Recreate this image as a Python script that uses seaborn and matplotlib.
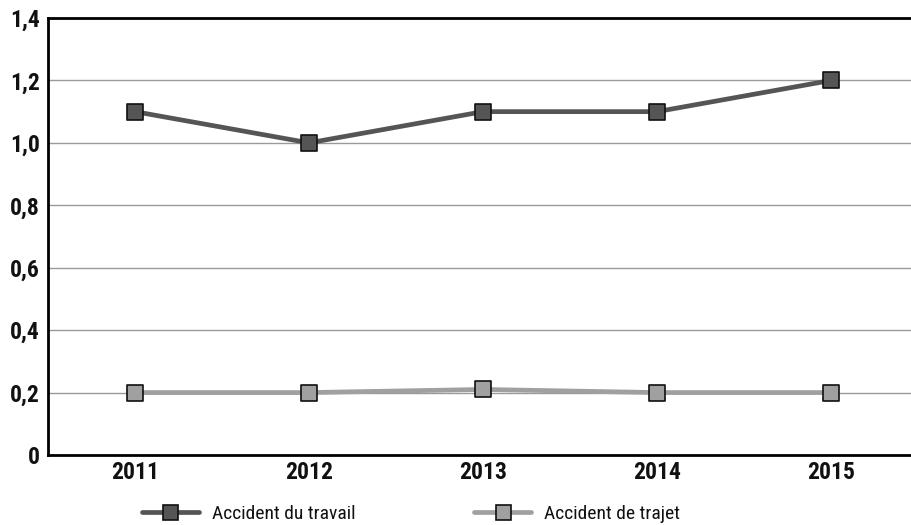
import matplotlib
matplotlib.use("Agg")
import matplotlib.pyplot as plt
import seaborn as sns
import pandas as pd
from matplotlib.ticker import FuncFormatter
from matplotlib.lines import Line2D

years = ["2011", "2012", "2013", "2014", "2015"]
travail = [1.1, 1.0, 1.1, 1.1, 1.2]
trajet = [0.2, 0.2, 0.21, 0.2, 0.2]
series_names = ["Accident du travail", "Accident de trajet"]
y_ticks = [0, 0.2, 0.4, 0.6, 0.8, 1.0, 1.2, 1.4]

df = pd.DataFrame({
    "x": list(range(len(years))) * 2,
    "value": travail + trajet,
    "series": [series_names[0]] * len(years) + [series_names[1]] * len(years),
})

sns.set_theme(style="white")
plt.rcParams["font.family"] = ["Roboto Condensed", "DejaVu Sans"]
plt.rcParams["font.stretch"] = "condensed"

fig = plt.figure(figsize=(9.11, 5.25), dpi=100)
ax = fig.add_axes([48 / 911, 1 - 455 / 525, 870 / 911, 437 / 525])

line_colors = {series_names[0]: "#555555", series_names[1]: "#a0a0a0"}

# horizontal reference lines
for tick in y_ticks[1:-1]:
    ax.axhline(tick, color="#9a9a9a", lw=1.0, zorder=0)

sns.lineplot(data=df, x="x", y="value", hue="series", palette=line_colors,
             linewidth=3.4, ax=ax, legend=False, zorder=2)
for name in series_names:
    sub = df[df["series"] == name]
    ax.scatter(sub["x"], sub["value"], marker="s", s=118,
               color=line_colors[name], edgecolor="#111111", linewidth=1.2, zorder=3)

ax.set_xlim(-0.5, len(years) - 0.5)
ax.set_ylim(0, 1.4)
ax.set_xticks(range(len(years)))
ax.set_xticklabels(years)
ax.set_yticks(y_ticks)
ax.yaxis.set_major_formatter(FuncFormatter(lambda v, p: "0" if v == 0 else f"{v:.1f}".replace(".", ",")))
ax.set_xlabel("")
ax.set_ylabel("")
ax.grid(False)

for lab in ax.get_xticklabels() + ax.get_yticklabels():
    lab.set_fontweight("bold")
    lab.set_fontsize(17)
    lab.set_color("#111111")
ax.tick_params(axis="both", length=0)
ax.tick_params(axis="x", pad=4)
ax.tick_params(axis="y", pad=6)

for side in ["left", "bottom", "top"]:
    ax.spines[side].set_visible(True)
    ax.spines[side].set_color("#000000")
    ax.spines[side].set_linewidth(2.0)
ax.spines["right"].set_visible(False)

handles = [Line2D([0], [0], color=line_colors[n], lw=3.4, marker="s", markersize=10.8,
                  markerfacecolor=line_colors[n], markeredgecolor="#111111",
                  markeredgewidth=1.2) for n in series_names]
leg = fig.legend(handles, series_names, loc="center left", bbox_to_anchor=(142 / 911, 0.021),
                 ncol=2, frameon=False, fontsize=14, handlelength=2.93,
                 columnspacing=6.1, handletextpad=0.67, borderpad=0, borderaxespad=0)
for t in leg.get_texts():
    t.set_color("#111111")

fig.savefig("out.png", dpi=100)
